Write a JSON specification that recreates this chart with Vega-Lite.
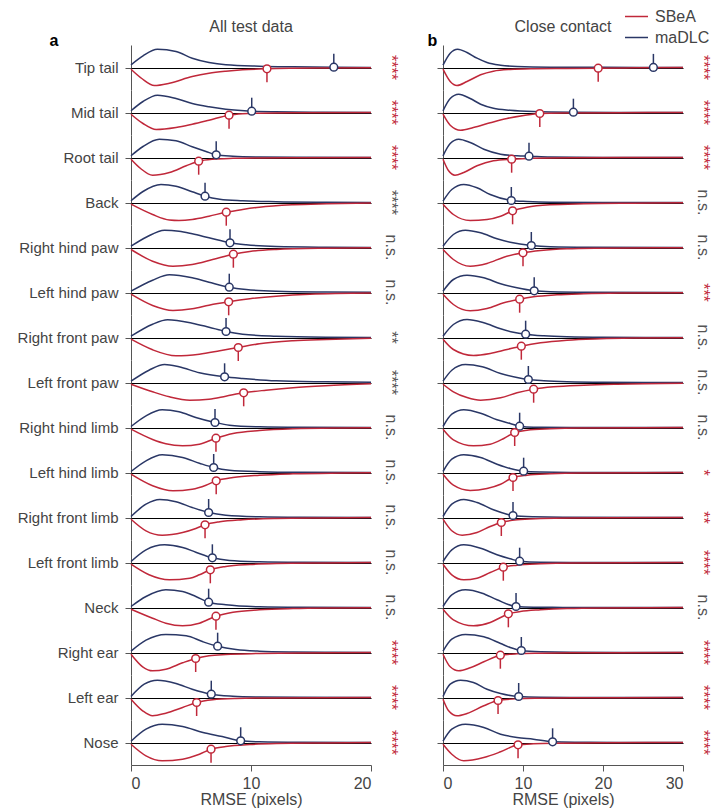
{
"$schema": "https://vega.github.io/schema/vega-lite/v6.json",
"padding": {"left": 17, "top": 4, "right": 2, "bottom": 2},
"config": {
 "font": "Liberation Sans",
 "view": {"stroke": null},
 "axis": {"domainColor": "#555", "tickColor": "#555", "labelColor": "#444", "titleColor": "#444", "labelFontSize": 16, "titleFontSize": 16, "titleFontWeight": "normal", "labelFont": "Liberation Sans", "titleFont": "Liberation Sans", "tickSize": 6},
 "header": {"labelFont": "Liberation Sans", "labelColor": "#444"},
 "title": {"font": "Liberation Sans"},
 "legend": {"labelFont": "Liberation Sans", "padding": 0}
},
"data": {"values": [
{"k":"c","g":"A","p":"Tip tail","m":"maDLC","x":0,"d":2.7},{"k":"c","g":"A","p":"Tip tail","m":"maDLC","x":1,"d":11.7},{"k":"c","g":"A","p":"Tip tail","m":"maDLC","x":2.2,"d":18.3},{"k":"c","g":"A","p":"Tip tail","m":"maDLC","x":3.75,"d":16},{"k":"c","g":"A","p":"Tip tail","m":"maDLC","x":5.1,"d":9.3},{"k":"c","g":"A","p":"Tip tail","m":"maDLC","x":6.5,"d":5},{"k":"c","g":"A","p":"Tip tail","m":"maDLC","x":7.9,"d":2.7},{"k":"c","g":"A","p":"Tip tail","m":"maDLC","x":10.7,"d":1.3},{"k":"c","g":"A","p":"Tip tail","m":"maDLC","x":13.5,"d":0.7},{"k":"c","g":"A","p":"Tip tail","m":"maDLC","x":16.9,"d":0.3},{"k":"c","g":"A","p":"Tip tail","m":"maDLC","x":20,"d":0.1},
{"k":"c","g":"A","p":"Tip tail","m":"SBeA","x":0,"d":-1.7},{"k":"c","g":"A","p":"Tip tail","m":"SBeA","x":0.9,"d":-11},{"k":"c","g":"A","p":"Tip tail","m":"SBeA","x":1.95,"d":-18},{"k":"c","g":"A","p":"Tip tail","m":"SBeA","x":3.2,"d":-15.7},{"k":"c","g":"A","p":"Tip tail","m":"SBeA","x":5.1,"d":-9},{"k":"c","g":"A","p":"Tip tail","m":"SBeA","x":6.5,"d":-5.7},{"k":"c","g":"A","p":"Tip tail","m":"SBeA","x":7.9,"d":-3.7},{"k":"c","g":"A","p":"Tip tail","m":"SBeA","x":9.3,"d":-2.3},{"k":"c","g":"A","p":"Tip tail","m":"SBeA","x":11.33,"d":-1.3},{"k":"c","g":"A","p":"Tip tail","m":"SBeA","x":13.5,"d":-0.8},{"k":"c","g":"A","p":"Tip tail","m":"SBeA","x":16.3,"d":-0.5},{"k":"c","g":"A","p":"Tip tail","m":"SBeA","x":20,"d":-0.2},
{"k":"c","g":"A","p":"Mid tail","m":"maDLC","x":0,"d":1.7},{"k":"c","g":"A","p":"Mid tail","m":"maDLC","x":1,"d":11},{"k":"c","g":"A","p":"Mid tail","m":"maDLC","x":2.2,"d":17.3},{"k":"c","g":"A","p":"Mid tail","m":"maDLC","x":3.75,"d":14},{"k":"c","g":"A","p":"Mid tail","m":"maDLC","x":5.1,"d":9},{"k":"c","g":"A","p":"Mid tail","m":"maDLC","x":6.5,"d":5.7},{"k":"c","g":"A","p":"Mid tail","m":"maDLC","x":7.9,"d":3.3},{"k":"c","g":"A","p":"Mid tail","m":"maDLC","x":10.06,"d":1.3},{"k":"c","g":"A","p":"Mid tail","m":"maDLC","x":12,"d":0.7},{"k":"c","g":"A","p":"Mid tail","m":"maDLC","x":16,"d":0.3},{"k":"c","g":"A","p":"Mid tail","m":"maDLC","x":20,"d":0.1},
{"k":"c","g":"A","p":"Mid tail","m":"SBeA","x":0,"d":-1.7},{"k":"c","g":"A","p":"Mid tail","m":"SBeA","x":1,"d":-11},{"k":"c","g":"A","p":"Mid tail","m":"SBeA","x":2.1,"d":-17},{"k":"c","g":"A","p":"Mid tail","m":"SBeA","x":3.75,"d":-15},{"k":"c","g":"A","p":"Mid tail","m":"SBeA","x":5.1,"d":-11.7},{"k":"c","g":"A","p":"Mid tail","m":"SBeA","x":6.5,"d":-7.7},{"k":"c","g":"A","p":"Mid tail","m":"SBeA","x":8.17,"d":-2.7},{"k":"c","g":"A","p":"Mid tail","m":"SBeA","x":9.3,"d":-1.3},{"k":"c","g":"A","p":"Mid tail","m":"SBeA","x":10.7,"d":-0.7},{"k":"c","g":"A","p":"Mid tail","m":"SBeA","x":13.5,"d":-0.3},{"k":"c","g":"A","p":"Mid tail","m":"SBeA","x":20,"d":-0.1},
{"k":"c","g":"A","p":"Root tail","m":"maDLC","x":0,"d":1.7},{"k":"c","g":"A","p":"Root tail","m":"maDLC","x":1,"d":11},{"k":"c","g":"A","p":"Root tail","m":"maDLC","x":2.36,"d":18.3},{"k":"c","g":"A","p":"Root tail","m":"maDLC","x":3.75,"d":16.7},{"k":"c","g":"A","p":"Root tail","m":"maDLC","x":5.1,"d":10.7},{"k":"c","g":"A","p":"Root tail","m":"maDLC","x":6.25,"d":6},{"k":"c","g":"A","p":"Root tail","m":"maDLC","x":7.1,"d":2.7},{"k":"c","g":"A","p":"Root tail","m":"maDLC","x":8.5,"d":1.3},{"k":"c","g":"A","p":"Root tail","m":"maDLC","x":10.7,"d":0.5},{"k":"c","g":"A","p":"Root tail","m":"maDLC","x":14,"d":0.2},{"k":"c","g":"A","p":"Root tail","m":"maDLC","x":20,"d":0.05},
{"k":"c","g":"A","p":"Root tail","m":"SBeA","x":0,"d":-1.7},{"k":"c","g":"A","p":"Root tail","m":"SBeA","x":0.8,"d":-11},{"k":"c","g":"A","p":"Root tail","m":"SBeA","x":1.8,"d":-17.7},{"k":"c","g":"A","p":"Root tail","m":"SBeA","x":3.2,"d":-15},{"k":"c","g":"A","p":"Root tail","m":"SBeA","x":4.6,"d":-8.3},{"k":"c","g":"A","p":"Root tail","m":"SBeA","x":5.64,"d":-3.7},{"k":"c","g":"A","p":"Root tail","m":"SBeA","x":6.8,"d":-1.7},{"k":"c","g":"A","p":"Root tail","m":"SBeA","x":8.5,"d":-0.8},{"k":"c","g":"A","p":"Root tail","m":"SBeA","x":10.7,"d":-0.4},{"k":"c","g":"A","p":"Root tail","m":"SBeA","x":14,"d":-0.2},{"k":"c","g":"A","p":"Root tail","m":"SBeA","x":20,"d":-0.05},
{"k":"c","g":"A","p":"Back","m":"maDLC","x":0,"d":1.7},{"k":"c","g":"A","p":"Back","m":"maDLC","x":1,"d":11},{"k":"c","g":"A","p":"Back","m":"maDLC","x":2.5,"d":18},{"k":"c","g":"A","p":"Back","m":"maDLC","x":3.75,"d":16.3},{"k":"c","g":"A","p":"Back","m":"maDLC","x":5.1,"d":10.7},{"k":"c","g":"A","p":"Back","m":"maDLC","x":6.17,"d":6.3},{"k":"c","g":"A","p":"Back","m":"maDLC","x":7.4,"d":3.3},{"k":"c","g":"A","p":"Back","m":"maDLC","x":9.3,"d":1.7},{"k":"c","g":"A","p":"Back","m":"maDLC","x":12.1,"d":0.8},{"k":"c","g":"A","p":"Back","m":"maDLC","x":16.25,"d":0.3},{"k":"c","g":"A","p":"Back","m":"maDLC","x":20,"d":0.1},
{"k":"c","g":"A","p":"Back","m":"SBeA","x":0,"d":-1.7},{"k":"c","g":"A","p":"Back","m":"SBeA","x":1.8,"d":-12},{"k":"c","g":"A","p":"Back","m":"SBeA","x":3.2,"d":-17.5},{"k":"c","g":"A","p":"Back","m":"SBeA","x":4,"d":-18},{"k":"c","g":"A","p":"Back","m":"SBeA","x":5.1,"d":-17},{"k":"c","g":"A","p":"Back","m":"SBeA","x":6.5,"d":-13.7},{"k":"c","g":"A","p":"Back","m":"SBeA","x":7.94,"d":-9.7},{"k":"c","g":"A","p":"Back","m":"SBeA","x":9.3,"d":-7},{"k":"c","g":"A","p":"Back","m":"SBeA","x":10.7,"d":-4.7},{"k":"c","g":"A","p":"Back","m":"SBeA","x":13.5,"d":-2.3},{"k":"c","g":"A","p":"Back","m":"SBeA","x":16.3,"d":-1.3},{"k":"c","g":"A","p":"Back","m":"SBeA","x":20,"d":-0.5},
{"k":"c","g":"A","p":"Right hind paw","m":"maDLC","x":0,"d":1.3},{"k":"c","g":"A","p":"Right hind paw","m":"maDLC","x":1.3,"d":10.5},{"k":"c","g":"A","p":"Right hind paw","m":"maDLC","x":2.8,"d":17.3},{"k":"c","g":"A","p":"Right hind paw","m":"maDLC","x":4,"d":16.3},{"k":"c","g":"A","p":"Right hind paw","m":"maDLC","x":5.1,"d":13.7},{"k":"c","g":"A","p":"Right hind paw","m":"maDLC","x":6.5,"d":9.7},{"k":"c","g":"A","p":"Right hind paw","m":"maDLC","x":8.25,"d":4.7},{"k":"c","g":"A","p":"Right hind paw","m":"maDLC","x":9.6,"d":2.7},{"k":"c","g":"A","p":"Right hind paw","m":"maDLC","x":12.1,"d":1},{"k":"c","g":"A","p":"Right hind paw","m":"maDLC","x":16.25,"d":0.3},{"k":"c","g":"A","p":"Right hind paw","m":"maDLC","x":20,"d":0.1},
{"k":"c","g":"A","p":"Right hind paw","m":"SBeA","x":0,"d":-2},{"k":"c","g":"A","p":"Right hind paw","m":"SBeA","x":1.8,"d":-13.7},{"k":"c","g":"A","p":"Right hind paw","m":"SBeA","x":3.5,"d":-18.7},{"k":"c","g":"A","p":"Right hind paw","m":"SBeA","x":5.1,"d":-17},{"k":"c","g":"A","p":"Right hind paw","m":"SBeA","x":6.8,"d":-12},{"k":"c","g":"A","p":"Right hind paw","m":"SBeA","x":8.53,"d":-6.7},{"k":"c","g":"A","p":"Right hind paw","m":"SBeA","x":9.9,"d":-4},{"k":"c","g":"A","p":"Right hind paw","m":"SBeA","x":12.1,"d":-2},{"k":"c","g":"A","p":"Right hind paw","m":"SBeA","x":16.25,"d":-0.7},{"k":"c","g":"A","p":"Right hind paw","m":"SBeA","x":20,"d":-0.3},
{"k":"c","g":"A","p":"Left hind paw","m":"maDLC","x":0,"d":1.3},{"k":"c","g":"A","p":"Left hind paw","m":"maDLC","x":1.8,"d":12.3},{"k":"c","g":"A","p":"Left hind paw","m":"maDLC","x":3.2,"d":17.7},{"k":"c","g":"A","p":"Left hind paw","m":"maDLC","x":5.1,"d":14.7},{"k":"c","g":"A","p":"Left hind paw","m":"maDLC","x":6.5,"d":10.3},{"k":"c","g":"A","p":"Left hind paw","m":"maDLC","x":8.19,"d":5.3},{"k":"c","g":"A","p":"Left hind paw","m":"maDLC","x":9.6,"d":3},{"k":"c","g":"A","p":"Left hind paw","m":"maDLC","x":12.1,"d":1.3},{"k":"c","g":"A","p":"Left hind paw","m":"maDLC","x":16.25,"d":0.5},{"k":"c","g":"A","p":"Left hind paw","m":"maDLC","x":20,"d":0.2},
{"k":"c","g":"A","p":"Left hind paw","m":"SBeA","x":0,"d":-1.7},{"k":"c","g":"A","p":"Left hind paw","m":"SBeA","x":1.8,"d":-13},{"k":"c","g":"A","p":"Left hind paw","m":"SBeA","x":3.5,"d":-18},{"k":"c","g":"A","p":"Left hind paw","m":"SBeA","x":5.1,"d":-16.3},{"k":"c","g":"A","p":"Left hind paw","m":"SBeA","x":6.5,"d":-12.7},{"k":"c","g":"A","p":"Left hind paw","m":"SBeA","x":8.14,"d":-9.3},{"k":"c","g":"A","p":"Left hind paw","m":"SBeA","x":9.9,"d":-6.3},{"k":"c","g":"A","p":"Left hind paw","m":"SBeA","x":12.1,"d":-3.7},{"k":"c","g":"A","p":"Left hind paw","m":"SBeA","x":14.9,"d":-1.7},{"k":"c","g":"A","p":"Left hind paw","m":"SBeA","x":20,"d":-0.5},
{"k":"c","g":"A","p":"Right front paw","m":"maDLC","x":0,"d":1.3},{"k":"c","g":"A","p":"Right front paw","m":"maDLC","x":1.8,"d":13.3},{"k":"c","g":"A","p":"Right front paw","m":"maDLC","x":3.05,"d":17.7},{"k":"c","g":"A","p":"Right front paw","m":"maDLC","x":5.1,"d":14.3},{"k":"c","g":"A","p":"Right front paw","m":"maDLC","x":6.5,"d":10.3},{"k":"c","g":"A","p":"Right front paw","m":"maDLC","x":7.92,"d":6},{"k":"c","g":"A","p":"Right front paw","m":"maDLC","x":9.3,"d":3.3},{"k":"c","g":"A","p":"Right front paw","m":"maDLC","x":12.1,"d":1.3},{"k":"c","g":"A","p":"Right front paw","m":"maDLC","x":16.25,"d":0.3},{"k":"c","g":"A","p":"Right front paw","m":"maDLC","x":20,"d":0.1},
{"k":"c","g":"A","p":"Right front paw","m":"SBeA","x":0,"d":-1.7},{"k":"c","g":"A","p":"Right front paw","m":"SBeA","x":1.8,"d":-12.3},{"k":"c","g":"A","p":"Right front paw","m":"SBeA","x":3.75,"d":-18.3},{"k":"c","g":"A","p":"Right front paw","m":"SBeA","x":5.7,"d":-16.7},{"k":"c","g":"A","p":"Right front paw","m":"SBeA","x":7.4,"d":-13.3},{"k":"c","g":"A","p":"Right front paw","m":"SBeA","x":8.94,"d":-10},{"k":"c","g":"A","p":"Right front paw","m":"SBeA","x":10.7,"d":-6.3},{"k":"c","g":"A","p":"Right front paw","m":"SBeA","x":13.5,"d":-3.3},{"k":"c","g":"A","p":"Right front paw","m":"SBeA","x":16.3,"d":-2},{"k":"c","g":"A","p":"Right front paw","m":"SBeA","x":20,"d":-0.8},
{"k":"c","g":"A","p":"Left front paw","m":"maDLC","x":0,"d":1.3},{"k":"c","g":"A","p":"Left front paw","m":"maDLC","x":1.5,"d":12.3},{"k":"c","g":"A","p":"Left front paw","m":"maDLC","x":2.8,"d":18},{"k":"c","g":"A","p":"Left front paw","m":"maDLC","x":4,"d":15.7},{"k":"c","g":"A","p":"Left front paw","m":"maDLC","x":5.7,"d":9.7},{"k":"c","g":"A","p":"Left front paw","m":"maDLC","x":7.8,"d":5.7},{"k":"c","g":"A","p":"Left front paw","m":"maDLC","x":9.3,"d":4},{"k":"c","g":"A","p":"Left front paw","m":"maDLC","x":12.1,"d":1.7},{"k":"c","g":"A","p":"Left front paw","m":"maDLC","x":16.25,"d":0.7},{"k":"c","g":"A","p":"Left front paw","m":"maDLC","x":20,"d":0.2},
{"k":"c","g":"A","p":"Left front paw","m":"SBeA","x":0,"d":-1.7},{"k":"c","g":"A","p":"Left front paw","m":"SBeA","x":1.8,"d":-9.3},{"k":"c","g":"A","p":"Left front paw","m":"SBeA","x":3.2,"d":-14.3},{"k":"c","g":"A","p":"Left front paw","m":"SBeA","x":4.9,"d":-17.7},{"k":"c","g":"A","p":"Left front paw","m":"SBeA","x":6.5,"d":-16.7},{"k":"c","g":"A","p":"Left front paw","m":"SBeA","x":7.9,"d":-13.7},{"k":"c","g":"A","p":"Left front paw","m":"SBeA","x":9.39,"d":-10.3},{"k":"c","g":"A","p":"Left front paw","m":"SBeA","x":11.25,"d":-7.7},{"k":"c","g":"A","p":"Left front paw","m":"SBeA","x":13.5,"d":-5.3},{"k":"c","g":"A","p":"Left front paw","m":"SBeA","x":16.2,"d":-3.3},{"k":"c","g":"A","p":"Left front paw","m":"SBeA","x":20,"d":-1.3},
{"k":"c","g":"A","p":"Right hind limb","m":"maDLC","x":0,"d":1},{"k":"c","g":"A","p":"Right hind limb","m":"maDLC","x":1.25,"d":11.7},{"k":"c","g":"A","p":"Right hind limb","m":"maDLC","x":2.6,"d":17.7},{"k":"c","g":"A","p":"Right hind limb","m":"maDLC","x":4,"d":15.7},{"k":"c","g":"A","p":"Right hind limb","m":"maDLC","x":5.4,"d":10},{"k":"c","g":"A","p":"Right hind limb","m":"maDLC","x":7,"d":5},{"k":"c","g":"A","p":"Right hind limb","m":"maDLC","x":8.2,"d":2.3},{"k":"c","g":"A","p":"Right hind limb","m":"maDLC","x":10.7,"d":0.7},{"k":"c","g":"A","p":"Right hind limb","m":"maDLC","x":14,"d":0.2},{"k":"c","g":"A","p":"Right hind limb","m":"maDLC","x":20,"d":0.05},
{"k":"c","g":"A","p":"Right hind limb","m":"SBeA","x":0,"d":-1.7},{"k":"c","g":"A","p":"Right hind limb","m":"SBeA","x":1.8,"d":-12},{"k":"c","g":"A","p":"Right hind limb","m":"SBeA","x":2.9,"d":-16.3},{"k":"c","g":"A","p":"Right hind limb","m":"SBeA","x":4.3,"d":-18.3},{"k":"c","g":"A","p":"Right hind limb","m":"SBeA","x":5.7,"d":-16.7},{"k":"c","g":"A","p":"Right hind limb","m":"SBeA","x":7.08,"d":-10.7},{"k":"c","g":"A","p":"Right hind limb","m":"SBeA","x":8.5,"d":-6},{"k":"c","g":"A","p":"Right hind limb","m":"SBeA","x":10.7,"d":-3},{"k":"c","g":"A","p":"Right hind limb","m":"SBeA","x":13.5,"d":-1.3},{"k":"c","g":"A","p":"Right hind limb","m":"SBeA","x":17.6,"d":-0.5},{"k":"c","g":"A","p":"Right hind limb","m":"SBeA","x":20,"d":-0.3},
{"k":"c","g":"A","p":"Left hind limb","m":"maDLC","x":0,"d":1},{"k":"c","g":"A","p":"Left hind limb","m":"maDLC","x":1.25,"d":11.7},{"k":"c","g":"A","p":"Left hind limb","m":"maDLC","x":2.6,"d":17.7},{"k":"c","g":"A","p":"Left hind limb","m":"maDLC","x":4.3,"d":15},{"k":"c","g":"A","p":"Left hind limb","m":"maDLC","x":5.7,"d":9.3},{"k":"c","g":"A","p":"Left hind limb","m":"maDLC","x":6.89,"d":5},{"k":"c","g":"A","p":"Left hind limb","m":"maDLC","x":8.2,"d":2.3},{"k":"c","g":"A","p":"Left hind limb","m":"maDLC","x":10.7,"d":0.8},{"k":"c","g":"A","p":"Left hind limb","m":"maDLC","x":14,"d":0.2},{"k":"c","g":"A","p":"Left hind limb","m":"maDLC","x":20,"d":0.05},
{"k":"c","g":"A","p":"Left hind limb","m":"SBeA","x":0,"d":-1.7},{"k":"c","g":"A","p":"Left hind limb","m":"SBeA","x":1.8,"d":-13.3},{"k":"c","g":"A","p":"Left hind limb","m":"SBeA","x":3.5,"d":-18.3},{"k":"c","g":"A","p":"Left hind limb","m":"SBeA","x":5.1,"d":-16.7},{"k":"c","g":"A","p":"Left hind limb","m":"SBeA","x":6.25,"d":-12.7},{"k":"c","g":"A","p":"Left hind limb","m":"SBeA","x":7.1,"d":-8.3},{"k":"c","g":"A","p":"Left hind limb","m":"SBeA","x":8.5,"d":-5},{"k":"c","g":"A","p":"Left hind limb","m":"SBeA","x":10.7,"d":-2.7},{"k":"c","g":"A","p":"Left hind limb","m":"SBeA","x":13.5,"d":-1.3},{"k":"c","g":"A","p":"Left hind limb","m":"SBeA","x":17.6,"d":-0.5},{"k":"c","g":"A","p":"Left hind limb","m":"SBeA","x":20,"d":-0.2},
{"k":"c","g":"A","p":"Right front limb","m":"maDLC","x":0,"d":1},{"k":"c","g":"A","p":"Right front limb","m":"maDLC","x":1.25,"d":13.3},{"k":"c","g":"A","p":"Right front limb","m":"maDLC","x":2.4,"d":18},{"k":"c","g":"A","p":"Right front limb","m":"maDLC","x":3.75,"d":15.7},{"k":"c","g":"A","p":"Right front limb","m":"maDLC","x":5.1,"d":10},{"k":"c","g":"A","p":"Right front limb","m":"maDLC","x":6.47,"d":5},{"k":"c","g":"A","p":"Right front limb","m":"maDLC","x":7.9,"d":2.3},{"k":"c","g":"A","p":"Right front limb","m":"maDLC","x":10.7,"d":0.7},{"k":"c","g":"A","p":"Right front limb","m":"maDLC","x":14,"d":0.2},{"k":"c","g":"A","p":"Right front limb","m":"maDLC","x":20,"d":0.05},
{"k":"c","g":"A","p":"Right front limb","m":"SBeA","x":0,"d":-1.7},{"k":"c","g":"A","p":"Right front limb","m":"SBeA","x":1.25,"d":-13.3},{"k":"c","g":"A","p":"Right front limb","m":"SBeA","x":2.6,"d":-17.7},{"k":"c","g":"A","p":"Right front limb","m":"SBeA","x":4.3,"d":-15},{"k":"c","g":"A","p":"Right front limb","m":"SBeA","x":5.4,"d":-11},{"k":"c","g":"A","p":"Right front limb","m":"SBeA","x":6.17,"d":-7.3},{"k":"c","g":"A","p":"Right front limb","m":"SBeA","x":7.4,"d":-4.3},{"k":"c","g":"A","p":"Right front limb","m":"SBeA","x":9.3,"d":-2.3},{"k":"c","g":"A","p":"Right front limb","m":"SBeA","x":12.1,"d":-1},{"k":"c","g":"A","p":"Right front limb","m":"SBeA","x":16,"d":-0.4},{"k":"c","g":"A","p":"Right front limb","m":"SBeA","x":20,"d":-0.1},
{"k":"c","g":"A","p":"Left front limb","m":"maDLC","x":0,"d":1},{"k":"c","g":"A","p":"Left front limb","m":"maDLC","x":1.25,"d":12.7},{"k":"c","g":"A","p":"Left front limb","m":"maDLC","x":2.8,"d":17.7},{"k":"c","g":"A","p":"Left front limb","m":"maDLC","x":4.3,"d":15},{"k":"c","g":"A","p":"Left front limb","m":"maDLC","x":5.4,"d":10.3},{"k":"c","g":"A","p":"Left front limb","m":"maDLC","x":6.78,"d":4.7},{"k":"c","g":"A","p":"Left front limb","m":"maDLC","x":8.2,"d":2},{"k":"c","g":"A","p":"Left front limb","m":"maDLC","x":10.7,"d":0.7},{"k":"c","g":"A","p":"Left front limb","m":"maDLC","x":14,"d":0.2},{"k":"c","g":"A","p":"Left front limb","m":"maDLC","x":20,"d":0.05},
{"k":"c","g":"A","p":"Left front limb","m":"SBeA","x":0,"d":-1.7},{"k":"c","g":"A","p":"Left front limb","m":"SBeA","x":1.5,"d":-12.3},{"k":"c","g":"A","p":"Left front limb","m":"SBeA","x":3.2,"d":-17.3},{"k":"c","g":"A","p":"Left front limb","m":"SBeA","x":4.9,"d":-15.7},{"k":"c","g":"A","p":"Left front limb","m":"SBeA","x":5.7,"d":-12.3},{"k":"c","g":"A","p":"Left front limb","m":"SBeA","x":6.61,"d":-7.3},{"k":"c","g":"A","p":"Left front limb","m":"SBeA","x":7.9,"d":-4},{"k":"c","g":"A","p":"Left front limb","m":"SBeA","x":9.9,"d":-2},{"k":"c","g":"A","p":"Left front limb","m":"SBeA","x":12.1,"d":-1},{"k":"c","g":"A","p":"Left front limb","m":"SBeA","x":16,"d":-0.4},{"k":"c","g":"A","p":"Left front limb","m":"SBeA","x":20,"d":-0.1},
{"k":"c","g":"A","p":"Neck","m":"maDLC","x":0,"d":1},{"k":"c","g":"A","p":"Neck","m":"maDLC","x":1.25,"d":11},{"k":"c","g":"A","p":"Neck","m":"maDLC","x":2.9,"d":17.7},{"k":"c","g":"A","p":"Neck","m":"maDLC","x":4.3,"d":16},{"k":"c","g":"A","p":"Neck","m":"maDLC","x":5.4,"d":11},{"k":"c","g":"A","p":"Neck","m":"maDLC","x":6.47,"d":5.3},{"k":"c","g":"A","p":"Neck","m":"maDLC","x":7.9,"d":2.7},{"k":"c","g":"A","p":"Neck","m":"maDLC","x":10.7,"d":0.7},{"k":"c","g":"A","p":"Neck","m":"maDLC","x":14,"d":0.2},{"k":"c","g":"A","p":"Neck","m":"maDLC","x":20,"d":0.05},
{"k":"c","g":"A","p":"Neck","m":"SBeA","x":0,"d":-1.7},{"k":"c","g":"A","p":"Neck","m":"SBeA","x":1.8,"d":-10.7},{"k":"c","g":"A","p":"Neck","m":"SBeA","x":2.9,"d":-15.7},{"k":"c","g":"A","p":"Neck","m":"SBeA","x":4.3,"d":-18.3},{"k":"c","g":"A","p":"Neck","m":"SBeA","x":5.7,"d":-15.7},{"k":"c","g":"A","p":"Neck","m":"SBeA","x":7.08,"d":-8.7},{"k":"c","g":"A","p":"Neck","m":"SBeA","x":8.5,"d":-4.7},{"k":"c","g":"A","p":"Neck","m":"SBeA","x":10.7,"d":-2.3},{"k":"c","g":"A","p":"Neck","m":"SBeA","x":13.5,"d":-1},{"k":"c","g":"A","p":"Neck","m":"SBeA","x":17,"d":-0.4},{"k":"c","g":"A","p":"Neck","m":"SBeA","x":20,"d":-0.2},
{"k":"c","g":"A","p":"Right ear","m":"maDLC","x":0,"d":1.3},{"k":"c","g":"A","p":"Right ear","m":"maDLC","x":1.25,"d":12.3},{"k":"c","g":"A","p":"Right ear","m":"maDLC","x":2.9,"d":18},{"k":"c","g":"A","p":"Right ear","m":"maDLC","x":4.6,"d":16.7},{"k":"c","g":"A","p":"Right ear","m":"maDLC","x":6,"d":10.7},{"k":"c","g":"A","p":"Right ear","m":"maDLC","x":7.22,"d":6.3},{"k":"c","g":"A","p":"Right ear","m":"maDLC","x":8.75,"d":3},{"k":"c","g":"A","p":"Right ear","m":"maDLC","x":10.7,"d":1.3},{"k":"c","g":"A","p":"Right ear","m":"maDLC","x":13.5,"d":0.5},{"k":"c","g":"A","p":"Right ear","m":"maDLC","x":17,"d":0.2},{"k":"c","g":"A","p":"Right ear","m":"maDLC","x":20,"d":0.05},
{"k":"c","g":"A","p":"Right ear","m":"SBeA","x":0,"d":-1.7},{"k":"c","g":"A","p":"Right ear","m":"SBeA","x":0.97,"d":-14.3},{"k":"c","g":"A","p":"Right ear","m":"SBeA","x":1.8,"d":-18.3},{"k":"c","g":"A","p":"Right ear","m":"SBeA","x":2.9,"d":-16.7},{"k":"c","g":"A","p":"Right ear","m":"SBeA","x":4.3,"d":-10.3},{"k":"c","g":"A","p":"Right ear","m":"SBeA","x":5.39,"d":-6},{"k":"c","g":"A","p":"Right ear","m":"SBeA","x":6.5,"d":-3.3},{"k":"c","g":"A","p":"Right ear","m":"SBeA","x":7.9,"d":-2},{"k":"c","g":"A","p":"Right ear","m":"SBeA","x":10.7,"d":-1},{"k":"c","g":"A","p":"Right ear","m":"SBeA","x":14,"d":-0.4},{"k":"c","g":"A","p":"Right ear","m":"SBeA","x":20,"d":-0.1},
{"k":"c","g":"A","p":"Left ear","m":"maDLC","x":0,"d":1},{"k":"c","g":"A","p":"Left ear","m":"maDLC","x":1.1,"d":13.3},{"k":"c","g":"A","p":"Left ear","m":"maDLC","x":2.2,"d":17.3},{"k":"c","g":"A","p":"Left ear","m":"maDLC","x":3.75,"d":14},{"k":"c","g":"A","p":"Left ear","m":"maDLC","x":5.1,"d":8.3},{"k":"c","g":"A","p":"Left ear","m":"maDLC","x":6.69,"d":3.3},{"k":"c","g":"A","p":"Left ear","m":"maDLC","x":8.5,"d":1.3},{"k":"c","g":"A","p":"Left ear","m":"maDLC","x":10.7,"d":0.5},{"k":"c","g":"A","p":"Left ear","m":"maDLC","x":14,"d":0.15},{"k":"c","g":"A","p":"Left ear","m":"maDLC","x":20,"d":0.05},
{"k":"c","g":"A","p":"Left ear","m":"SBeA","x":0,"d":-1.7},{"k":"c","g":"A","p":"Left ear","m":"SBeA","x":0.97,"d":-13.3},{"k":"c","g":"A","p":"Left ear","m":"SBeA","x":1.8,"d":-18.3},{"k":"c","g":"A","p":"Left ear","m":"SBeA","x":2.9,"d":-15.7},{"k":"c","g":"A","p":"Left ear","m":"SBeA","x":4.3,"d":-10},{"k":"c","g":"A","p":"Left ear","m":"SBeA","x":5.47,"d":-5},{"k":"c","g":"A","p":"Left ear","m":"SBeA","x":6.8,"d":-2.3},{"k":"c","g":"A","p":"Left ear","m":"SBeA","x":8.75,"d":-1},{"k":"c","g":"A","p":"Left ear","m":"SBeA","x":12,"d":-0.4},{"k":"c","g":"A","p":"Left ear","m":"SBeA","x":20,"d":-0.1},
{"k":"c","g":"A","p":"Nose","m":"maDLC","x":0,"d":1.3},{"k":"c","g":"A","p":"Nose","m":"maDLC","x":1.25,"d":13.3},{"k":"c","g":"A","p":"Nose","m":"maDLC","x":2.6,"d":18.3},{"k":"c","g":"A","p":"Nose","m":"maDLC","x":4.3,"d":16},{"k":"c","g":"A","p":"Nose","m":"maDLC","x":6,"d":10},{"k":"c","g":"A","p":"Nose","m":"maDLC","x":7.6,"d":6},{"k":"c","g":"A","p":"Nose","m":"maDLC","x":9.14,"d":1.7},{"k":"c","g":"A","p":"Nose","m":"maDLC","x":10.7,"d":0.7},{"k":"c","g":"A","p":"Nose","m":"maDLC","x":14,"d":0.2},{"k":"c","g":"A","p":"Nose","m":"maDLC","x":20,"d":0.05},
{"k":"c","g":"A","p":"Nose","m":"SBeA","x":0,"d":-1.7},{"k":"c","g":"A","p":"Nose","m":"SBeA","x":1.25,"d":-13.3},{"k":"c","g":"A","p":"Nose","m":"SBeA","x":2.6,"d":-18.3},{"k":"c","g":"A","p":"Nose","m":"SBeA","x":4.3,"d":-16.7},{"k":"c","g":"A","p":"Nose","m":"SBeA","x":5.7,"d":-11.7},{"k":"c","g":"A","p":"Nose","m":"SBeA","x":6.67,"d":-6.7},{"k":"c","g":"A","p":"Nose","m":"SBeA","x":7.9,"d":-4},{"k":"c","g":"A","p":"Nose","m":"SBeA","x":9.9,"d":-2},{"k":"c","g":"A","p":"Nose","m":"SBeA","x":12.1,"d":-1},{"k":"c","g":"A","p":"Nose","m":"SBeA","x":16,"d":-0.4},{"k":"c","g":"A","p":"Nose","m":"SBeA","x":20,"d":-0.1},

{"k":"c","g":"B","p":"Tip tail","m":"maDLC","x":0,"d":2.3},{"k":"c","g":"B","p":"Tip tail","m":"maDLC","x":0.9,"d":14.3},{"k":"c","g":"B","p":"Tip tail","m":"maDLC","x":1.83,"d":18.3},{"k":"c","g":"B","p":"Tip tail","m":"maDLC","x":3,"d":15},{"k":"c","g":"B","p":"Tip tail","m":"maDLC","x":4.25,"d":9.3},{"k":"c","g":"B","p":"Tip tail","m":"maDLC","x":5.5,"d":5},{"k":"c","g":"B","p":"Tip tail","m":"maDLC","x":7.2,"d":2.3},{"k":"c","g":"B","p":"Tip tail","m":"maDLC","x":9.25,"d":1},{"k":"c","g":"B","p":"Tip tail","m":"maDLC","x":13.4,"d":0.3},{"k":"c","g":"B","p":"Tip tail","m":"maDLC","x":20,"d":0.15},{"k":"c","g":"B","p":"Tip tail","m":"maDLC","x":26.3,"d":0.1},{"k":"c","g":"B","p":"Tip tail","m":"maDLC","x":30,"d":0.05},
{"k":"c","g":"B","p":"Tip tail","m":"SBeA","x":0,"d":-1.7},{"k":"c","g":"B","p":"Tip tail","m":"SBeA","x":0.9,"d":-14},{"k":"c","g":"B","p":"Tip tail","m":"SBeA","x":1.75,"d":-18},{"k":"c","g":"B","p":"Tip tail","m":"SBeA","x":3,"d":-14},{"k":"c","g":"B","p":"Tip tail","m":"SBeA","x":4.7,"d":-7.3},{"k":"c","g":"B","p":"Tip tail","m":"SBeA","x":6.3,"d":-3.7},{"k":"c","g":"B","p":"Tip tail","m":"SBeA","x":8.4,"d":-2},{"k":"c","g":"B","p":"Tip tail","m":"SBeA","x":11.3,"d":-1.3},{"k":"c","g":"B","p":"Tip tail","m":"SBeA","x":15.5,"d":-1},{"k":"c","g":"B","p":"Tip tail","m":"SBeA","x":19.4,"d":-0.7},{"k":"c","g":"B","p":"Tip tail","m":"SBeA","x":24,"d":-0.3},{"k":"c","g":"B","p":"Tip tail","m":"SBeA","x":30,"d":-0.1},
{"k":"c","g":"B","p":"Mid tail","m":"maDLC","x":0,"d":1.7},{"k":"c","g":"B","p":"Mid tail","m":"maDLC","x":0.9,"d":14},{"k":"c","g":"B","p":"Mid tail","m":"maDLC","x":1.96,"d":18.3},{"k":"c","g":"B","p":"Mid tail","m":"maDLC","x":3.4,"d":14},{"k":"c","g":"B","p":"Mid tail","m":"maDLC","x":4.7,"d":8.3},{"k":"c","g":"B","p":"Mid tail","m":"maDLC","x":6.3,"d":4.3},{"k":"c","g":"B","p":"Mid tail","m":"maDLC","x":8.4,"d":2.3},{"k":"c","g":"B","p":"Mid tail","m":"maDLC","x":11.3,"d":1},{"k":"c","g":"B","p":"Mid tail","m":"maDLC","x":16.3,"d":0.3},{"k":"c","g":"B","p":"Mid tail","m":"maDLC","x":22,"d":0.1},{"k":"c","g":"B","p":"Mid tail","m":"maDLC","x":30,"d":0.05},
{"k":"c","g":"B","p":"Mid tail","m":"SBeA","x":0,"d":-1.7},{"k":"c","g":"B","p":"Mid tail","m":"SBeA","x":0.9,"d":-12.7},{"k":"c","g":"B","p":"Mid tail","m":"SBeA","x":2.2,"d":-17.7},{"k":"c","g":"B","p":"Mid tail","m":"SBeA","x":3.8,"d":-15},{"k":"c","g":"B","p":"Mid tail","m":"SBeA","x":5.9,"d":-10.3},{"k":"c","g":"B","p":"Mid tail","m":"SBeA","x":8,"d":-6},{"k":"c","g":"B","p":"Mid tail","m":"SBeA","x":10.1,"d":-3},{"k":"c","g":"B","p":"Mid tail","m":"SBeA","x":12.1,"d":-1},{"k":"c","g":"B","p":"Mid tail","m":"SBeA","x":15.5,"d":-0.5},{"k":"c","g":"B","p":"Mid tail","m":"SBeA","x":22,"d":-0.2},{"k":"c","g":"B","p":"Mid tail","m":"SBeA","x":30,"d":-0.05},
{"k":"c","g":"B","p":"Root tail","m":"maDLC","x":0,"d":1.7},{"k":"c","g":"B","p":"Root tail","m":"maDLC","x":0.9,"d":14},{"k":"c","g":"B","p":"Root tail","m":"maDLC","x":1.96,"d":18.3},{"k":"c","g":"B","p":"Root tail","m":"maDLC","x":3.4,"d":15},{"k":"c","g":"B","p":"Root tail","m":"maDLC","x":5.1,"d":8.3},{"k":"c","g":"B","p":"Root tail","m":"maDLC","x":7.2,"d":3.3},{"k":"c","g":"B","p":"Root tail","m":"maDLC","x":9.25,"d":1.7},{"k":"c","g":"B","p":"Root tail","m":"maDLC","x":10.75,"d":1.3},{"k":"c","g":"B","p":"Root tail","m":"maDLC","x":13.4,"d":0.5},{"k":"c","g":"B","p":"Root tail","m":"maDLC","x":20,"d":0.1},{"k":"c","g":"B","p":"Root tail","m":"maDLC","x":30,"d":0.05},
{"k":"c","g":"B","p":"Root tail","m":"SBeA","x":0,"d":-1.7},{"k":"c","g":"B","p":"Root tail","m":"SBeA","x":0.7,"d":-13.3},{"k":"c","g":"B","p":"Root tail","m":"SBeA","x":1.5,"d":-17.7},{"k":"c","g":"B","p":"Root tail","m":"SBeA","x":2.6,"d":-15},{"k":"c","g":"B","p":"Root tail","m":"SBeA","x":4.25,"d":-8.3},{"k":"c","g":"B","p":"Root tail","m":"SBeA","x":6.3,"d":-3.3},{"k":"c","g":"B","p":"Root tail","m":"SBeA","x":8.58,"d":-1.7},{"k":"c","g":"B","p":"Root tail","m":"SBeA","x":11.3,"d":-0.7},{"k":"c","g":"B","p":"Root tail","m":"SBeA","x":16,"d":-0.2},{"k":"c","g":"B","p":"Root tail","m":"SBeA","x":30,"d":-0.05},
{"k":"c","g":"B","p":"Back","m":"maDLC","x":0,"d":1.3},{"k":"c","g":"B","p":"Back","m":"maDLC","x":1.1,"d":13},{"k":"c","g":"B","p":"Back","m":"maDLC","x":2.6,"d":18},{"k":"c","g":"B","p":"Back","m":"maDLC","x":4.25,"d":14.7},{"k":"c","g":"B","p":"Back","m":"maDLC","x":5.9,"d":8},{"k":"c","g":"B","p":"Back","m":"maDLC","x":8.54,"d":2},{"k":"c","g":"B","p":"Back","m":"maDLC","x":10.5,"d":1},{"k":"c","g":"B","p":"Back","m":"maDLC","x":13.4,"d":0.3},{"k":"c","g":"B","p":"Back","m":"maDLC","x":20,"d":0.1},{"k":"c","g":"B","p":"Back","m":"maDLC","x":30,"d":0.05},
{"k":"c","g":"B","p":"Back","m":"SBeA","x":0,"d":-1.7},{"k":"c","g":"B","p":"Back","m":"SBeA","x":1.3,"d":-12},{"k":"c","g":"B","p":"Back","m":"SBeA","x":3.4,"d":-18},{"k":"c","g":"B","p":"Back","m":"SBeA","x":5.5,"d":-17},{"k":"c","g":"B","p":"Back","m":"SBeA","x":7.2,"d":-13.7},{"k":"c","g":"B","p":"Back","m":"SBeA","x":8.7,"d":-8.3},{"k":"c","g":"B","p":"Back","m":"SBeA","x":10.5,"d":-4.7},{"k":"c","g":"B","p":"Back","m":"SBeA","x":13.4,"d":-2.3},{"k":"c","g":"B","p":"Back","m":"SBeA","x":17.6,"d":-1.3},{"k":"c","g":"B","p":"Back","m":"SBeA","x":23.8,"d":-0.7},{"k":"c","g":"B","p":"Back","m":"SBeA","x":30,"d":-0.3},
{"k":"c","g":"B","p":"Right hind paw","m":"maDLC","x":0,"d":1.3},{"k":"c","g":"B","p":"Right hind paw","m":"maDLC","x":1.3,"d":13},{"k":"c","g":"B","p":"Right hind paw","m":"maDLC","x":2.8,"d":17.3},{"k":"c","g":"B","p":"Right hind paw","m":"maDLC","x":4.7,"d":14.7},{"k":"c","g":"B","p":"Right hind paw","m":"maDLC","x":6.75,"d":8.7},{"k":"c","g":"B","p":"Right hind paw","m":"maDLC","x":8.4,"d":5.3},{"k":"c","g":"B","p":"Right hind paw","m":"maDLC","x":11.04,"d":2},{"k":"c","g":"B","p":"Right hind paw","m":"maDLC","x":13.4,"d":0.7},{"k":"c","g":"B","p":"Right hind paw","m":"maDLC","x":18,"d":0.2},{"k":"c","g":"B","p":"Right hind paw","m":"maDLC","x":30,"d":0.05},
{"k":"c","g":"B","p":"Right hind paw","m":"SBeA","x":0,"d":-2},{"k":"c","g":"B","p":"Right hind paw","m":"SBeA","x":1.3,"d":-12},{"k":"c","g":"B","p":"Right hind paw","m":"SBeA","x":3.4,"d":-18.7},{"k":"c","g":"B","p":"Right hind paw","m":"SBeA","x":5.5,"d":-16},{"k":"c","g":"B","p":"Right hind paw","m":"SBeA","x":7.6,"d":-9.7},{"k":"c","g":"B","p":"Right hind paw","m":"SBeA","x":10,"d":-5.3},{"k":"c","g":"B","p":"Right hind paw","m":"SBeA","x":12.2,"d":-3},{"k":"c","g":"B","p":"Right hind paw","m":"SBeA","x":15.5,"d":-1.3},{"k":"c","g":"B","p":"Right hind paw","m":"SBeA","x":19.7,"d":-0.7},{"k":"c","g":"B","p":"Right hind paw","m":"SBeA","x":30,"d":-0.2},
{"k":"c","g":"B","p":"Left hind paw","m":"maDLC","x":0,"d":1.3},{"k":"c","g":"B","p":"Left hind paw","m":"maDLC","x":1.3,"d":13},{"k":"c","g":"B","p":"Left hind paw","m":"maDLC","x":3,"d":17.3},{"k":"c","g":"B","p":"Left hind paw","m":"maDLC","x":5.1,"d":14.7},{"k":"c","g":"B","p":"Left hind paw","m":"maDLC","x":7.2,"d":8.7},{"k":"c","g":"B","p":"Left hind paw","m":"maDLC","x":9.25,"d":4.7},{"k":"c","g":"B","p":"Left hind paw","m":"maDLC","x":11.4,"d":1.7},{"k":"c","g":"B","p":"Left hind paw","m":"maDLC","x":13.4,"d":0.7},{"k":"c","g":"B","p":"Left hind paw","m":"maDLC","x":18,"d":0.2},{"k":"c","g":"B","p":"Left hind paw","m":"maDLC","x":30,"d":0.05},
{"k":"c","g":"B","p":"Left hind paw","m":"SBeA","x":0,"d":-1.7},{"k":"c","g":"B","p":"Left hind paw","m":"SBeA","x":1.3,"d":-12},{"k":"c","g":"B","p":"Left hind paw","m":"SBeA","x":3.4,"d":-18.3},{"k":"c","g":"B","p":"Left hind paw","m":"SBeA","x":5.5,"d":-16},{"k":"c","g":"B","p":"Left hind paw","m":"SBeA","x":7.6,"d":-10.3},{"k":"c","g":"B","p":"Left hind paw","m":"SBeA","x":9.58,"d":-6.7},{"k":"c","g":"B","p":"Left hind paw","m":"SBeA","x":11.3,"d":-4.3},{"k":"c","g":"B","p":"Left hind paw","m":"SBeA","x":14.25,"d":-2.3},{"k":"c","g":"B","p":"Left hind paw","m":"SBeA","x":17.6,"d":-1.3},{"k":"c","g":"B","p":"Left hind paw","m":"SBeA","x":22,"d":-0.6},{"k":"c","g":"B","p":"Left hind paw","m":"SBeA","x":30,"d":-0.2},
{"k":"c","g":"B","p":"Right front paw","m":"maDLC","x":0,"d":1.3},{"k":"c","g":"B","p":"Right front paw","m":"maDLC","x":1.3,"d":13},{"k":"c","g":"B","p":"Right front paw","m":"maDLC","x":3,"d":18},{"k":"c","g":"B","p":"Right front paw","m":"maDLC","x":5.1,"d":14.7},{"k":"c","g":"B","p":"Right front paw","m":"maDLC","x":7.2,"d":8.7},{"k":"c","g":"B","p":"Right front paw","m":"maDLC","x":8.8,"d":5.3},{"k":"c","g":"B","p":"Right front paw","m":"maDLC","x":10.33,"d":3.3},{"k":"c","g":"B","p":"Right front paw","m":"maDLC","x":12.6,"d":1.7},{"k":"c","g":"B","p":"Right front paw","m":"maDLC","x":15.5,"d":0.7},{"k":"c","g":"B","p":"Right front paw","m":"maDLC","x":20,"d":0.2},{"k":"c","g":"B","p":"Right front paw","m":"maDLC","x":30,"d":0.05},
{"k":"c","g":"B","p":"Right front paw","m":"SBeA","x":0,"d":-1.7},{"k":"c","g":"B","p":"Right front paw","m":"SBeA","x":1.3,"d":-12},{"k":"c","g":"B","p":"Right front paw","m":"SBeA","x":3.8,"d":-18},{"k":"c","g":"B","p":"Right front paw","m":"SBeA","x":5.9,"d":-16},{"k":"c","g":"B","p":"Right front paw","m":"SBeA","x":8,"d":-12},{"k":"c","g":"B","p":"Right front paw","m":"SBeA","x":9.79,"d":-8.7},{"k":"c","g":"B","p":"Right front paw","m":"SBeA","x":12.2,"d":-5.3},{"k":"c","g":"B","p":"Right front paw","m":"SBeA","x":15.5,"d":-2.7},{"k":"c","g":"B","p":"Right front paw","m":"SBeA","x":19.7,"d":-1.3},{"k":"c","g":"B","p":"Right front paw","m":"SBeA","x":24,"d":-0.6},{"k":"c","g":"B","p":"Right front paw","m":"SBeA","x":30,"d":-0.2},
{"k":"c","g":"B","p":"Left front paw","m":"maDLC","x":0,"d":1.3},{"k":"c","g":"B","p":"Left front paw","m":"maDLC","x":1.1,"d":12.3},{"k":"c","g":"B","p":"Left front paw","m":"maDLC","x":2.8,"d":18},{"k":"c","g":"B","p":"Left front paw","m":"maDLC","x":4.9,"d":15.7},{"k":"c","g":"B","p":"Left front paw","m":"maDLC","x":7.2,"d":9},{"k":"c","g":"B","p":"Left front paw","m":"maDLC","x":9.25,"d":5},{"k":"c","g":"B","p":"Left front paw","m":"maDLC","x":10.67,"d":3},{"k":"c","g":"B","p":"Left front paw","m":"maDLC","x":12.6,"d":1.7},{"k":"c","g":"B","p":"Left front paw","m":"maDLC","x":15.5,"d":0.7},{"k":"c","g":"B","p":"Left front paw","m":"maDLC","x":20,"d":0.2},{"k":"c","g":"B","p":"Left front paw","m":"maDLC","x":30,"d":0.05},
{"k":"c","g":"B","p":"Left front paw","m":"SBeA","x":0,"d":-1.7},{"k":"c","g":"B","p":"Left front paw","m":"SBeA","x":1.3,"d":-9.3},{"k":"c","g":"B","p":"Left front paw","m":"SBeA","x":3,"d":-15},{"k":"c","g":"B","p":"Left front paw","m":"SBeA","x":4.7,"d":-17.7},{"k":"c","g":"B","p":"Left front paw","m":"SBeA","x":7.2,"d":-15.3},{"k":"c","g":"B","p":"Left front paw","m":"SBeA","x":9.25,"d":-10.3},{"k":"c","g":"B","p":"Left front paw","m":"SBeA","x":11.33,"d":-6.7},{"k":"c","g":"B","p":"Left front paw","m":"SBeA","x":13.8,"d":-4.3},{"k":"c","g":"B","p":"Left front paw","m":"SBeA","x":17.6,"d":-2.7},{"k":"c","g":"B","p":"Left front paw","m":"SBeA","x":21.75,"d":-1.7},{"k":"c","g":"B","p":"Left front paw","m":"SBeA","x":30,"d":-0.7},
{"k":"c","g":"B","p":"Right hind limb","m":"maDLC","x":0,"d":1},{"k":"c","g":"B","p":"Right hind limb","m":"maDLC","x":1.1,"d":13.3},{"k":"c","g":"B","p":"Right hind limb","m":"maDLC","x":2.6,"d":17.7},{"k":"c","g":"B","p":"Right hind limb","m":"maDLC","x":4.7,"d":14.3},{"k":"c","g":"B","p":"Right hind limb","m":"maDLC","x":6.75,"d":7.7},{"k":"c","g":"B","p":"Right hind limb","m":"maDLC","x":8.4,"d":4},{"k":"c","g":"B","p":"Right hind limb","m":"maDLC","x":9.58,"d":1.3},{"k":"c","g":"B","p":"Right hind limb","m":"maDLC","x":11.3,"d":0.3},{"k":"c","g":"B","p":"Right hind limb","m":"maDLC","x":16,"d":0.1},{"k":"c","g":"B","p":"Right hind limb","m":"maDLC","x":30,"d":0.02},
{"k":"c","g":"B","p":"Right hind limb","m":"SBeA","x":0,"d":-1.7},{"k":"c","g":"B","p":"Right hind limb","m":"SBeA","x":1.3,"d":-12.3},{"k":"c","g":"B","p":"Right hind limb","m":"SBeA","x":3.8,"d":-18.3},{"k":"c","g":"B","p":"Right hind limb","m":"SBeA","x":5.9,"d":-16.7},{"k":"c","g":"B","p":"Right hind limb","m":"SBeA","x":7.6,"d":-11},{"k":"c","g":"B","p":"Right hind limb","m":"SBeA","x":8.96,"d":-5},{"k":"c","g":"B","p":"Right hind limb","m":"SBeA","x":10.5,"d":-2.7},{"k":"c","g":"B","p":"Right hind limb","m":"SBeA","x":13.4,"d":-1.3},{"k":"c","g":"B","p":"Right hind limb","m":"SBeA","x":17,"d":-0.5},{"k":"c","g":"B","p":"Right hind limb","m":"SBeA","x":30,"d":-0.1},
{"k":"c","g":"B","p":"Left hind limb","m":"maDLC","x":0,"d":1},{"k":"c","g":"B","p":"Left hind limb","m":"maDLC","x":1.1,"d":13.3},{"k":"c","g":"B","p":"Left hind limb","m":"maDLC","x":2.6,"d":17.7},{"k":"c","g":"B","p":"Left hind limb","m":"maDLC","x":4.7,"d":15},{"k":"c","g":"B","p":"Left hind limb","m":"maDLC","x":6.75,"d":8.3},{"k":"c","g":"B","p":"Left hind limb","m":"maDLC","x":8.4,"d":4},{"k":"c","g":"B","p":"Left hind limb","m":"maDLC","x":10.08,"d":1.3},{"k":"c","g":"B","p":"Left hind limb","m":"maDLC","x":12.2,"d":0.5},{"k":"c","g":"B","p":"Left hind limb","m":"maDLC","x":16,"d":0.1},{"k":"c","g":"B","p":"Left hind limb","m":"maDLC","x":30,"d":0.02},
{"k":"c","g":"B","p":"Left hind limb","m":"SBeA","x":0,"d":-1.7},{"k":"c","g":"B","p":"Left hind limb","m":"SBeA","x":1.3,"d":-12.7},{"k":"c","g":"B","p":"Left hind limb","m":"SBeA","x":3.4,"d":-18},{"k":"c","g":"B","p":"Left hind limb","m":"SBeA","x":5.5,"d":-16},{"k":"c","g":"B","p":"Left hind limb","m":"SBeA","x":7.2,"d":-11.7},{"k":"c","g":"B","p":"Left hind limb","m":"SBeA","x":8.75,"d":-5},{"k":"c","g":"B","p":"Left hind limb","m":"SBeA","x":10.5,"d":-2.7},{"k":"c","g":"B","p":"Left hind limb","m":"SBeA","x":13.4,"d":-1.3},{"k":"c","g":"B","p":"Left hind limb","m":"SBeA","x":17,"d":-0.5},{"k":"c","g":"B","p":"Left hind limb","m":"SBeA","x":30,"d":-0.1},
{"k":"c","g":"B","p":"Right front limb","m":"maDLC","x":0,"d":1},{"k":"c","g":"B","p":"Right front limb","m":"maDLC","x":1.1,"d":13.3},{"k":"c","g":"B","p":"Right front limb","m":"maDLC","x":2.6,"d":18},{"k":"c","g":"B","p":"Right front limb","m":"maDLC","x":4.25,"d":15},{"k":"c","g":"B","p":"Right front limb","m":"maDLC","x":6.3,"d":7.7},{"k":"c","g":"B","p":"Right front limb","m":"maDLC","x":8,"d":3.3},{"k":"c","g":"B","p":"Right front limb","m":"maDLC","x":8.75,"d":2},{"k":"c","g":"B","p":"Right front limb","m":"maDLC","x":11.3,"d":0.7},{"k":"c","g":"B","p":"Right front limb","m":"maDLC","x":15,"d":0.2},{"k":"c","g":"B","p":"Right front limb","m":"maDLC","x":30,"d":0.02},
{"k":"c","g":"B","p":"Right front limb","m":"SBeA","x":0,"d":-1.7},{"k":"c","g":"B","p":"Right front limb","m":"SBeA","x":1.1,"d":-13.3},{"k":"c","g":"B","p":"Right front limb","m":"SBeA","x":2.4,"d":-17.7},{"k":"c","g":"B","p":"Right front limb","m":"SBeA","x":4.25,"d":-15},{"k":"c","g":"B","p":"Right front limb","m":"SBeA","x":5.9,"d":-9},{"k":"c","g":"B","p":"Right front limb","m":"SBeA","x":7.29,"d":-5},{"k":"c","g":"B","p":"Right front limb","m":"SBeA","x":9.25,"d":-2.3},{"k":"c","g":"B","p":"Right front limb","m":"SBeA","x":12.2,"d":-1},{"k":"c","g":"B","p":"Right front limb","m":"SBeA","x":16,"d":-0.4},{"k":"c","g":"B","p":"Right front limb","m":"SBeA","x":30,"d":-0.1},
{"k":"c","g":"B","p":"Left front limb","m":"maDLC","x":0,"d":1},{"k":"c","g":"B","p":"Left front limb","m":"maDLC","x":1.1,"d":12.7},{"k":"c","g":"B","p":"Left front limb","m":"maDLC","x":2.6,"d":17.7},{"k":"c","g":"B","p":"Left front limb","m":"maDLC","x":4.7,"d":14.3},{"k":"c","g":"B","p":"Left front limb","m":"maDLC","x":6.75,"d":7.7},{"k":"c","g":"B","p":"Left front limb","m":"maDLC","x":8.4,"d":3.7},{"k":"c","g":"B","p":"Left front limb","m":"maDLC","x":9.58,"d":1.3},{"k":"c","g":"B","p":"Left front limb","m":"maDLC","x":12.2,"d":0.3},{"k":"c","g":"B","p":"Left front limb","m":"maDLC","x":16,"d":0.1},{"k":"c","g":"B","p":"Left front limb","m":"maDLC","x":30,"d":0.02},
{"k":"c","g":"B","p":"Left front limb","m":"SBeA","x":0,"d":-1.7},{"k":"c","g":"B","p":"Left front limb","m":"SBeA","x":1.1,"d":-12.3},{"k":"c","g":"B","p":"Left front limb","m":"SBeA","x":2.6,"d":-17.3},{"k":"c","g":"B","p":"Left front limb","m":"SBeA","x":4.25,"d":-15.7},{"k":"c","g":"B","p":"Left front limb","m":"SBeA","x":5.9,"d":-10},{"k":"c","g":"B","p":"Left front limb","m":"SBeA","x":7.54,"d":-4.7},{"k":"c","g":"B","p":"Left front limb","m":"SBeA","x":9.25,"d":-2.7},{"k":"c","g":"B","p":"Left front limb","m":"SBeA","x":12.2,"d":-1.3},{"k":"c","g":"B","p":"Left front limb","m":"SBeA","x":16,"d":-0.5},{"k":"c","g":"B","p":"Left front limb","m":"SBeA","x":30,"d":-0.1},
{"k":"c","g":"B","p":"Neck","m":"maDLC","x":0,"d":1},{"k":"c","g":"B","p":"Neck","m":"maDLC","x":1.1,"d":12.7},{"k":"c","g":"B","p":"Neck","m":"maDLC","x":2.8,"d":17.7},{"k":"c","g":"B","p":"Neck","m":"maDLC","x":4.9,"d":14.3},{"k":"c","g":"B","p":"Neck","m":"maDLC","x":6.75,"d":7.7},{"k":"c","g":"B","p":"Neck","m":"maDLC","x":9.13,"d":1},{"k":"c","g":"B","p":"Neck","m":"maDLC","x":11.3,"d":0.3},{"k":"c","g":"B","p":"Neck","m":"maDLC","x":15,"d":0.1},{"k":"c","g":"B","p":"Neck","m":"maDLC","x":30,"d":0.02},
{"k":"c","g":"B","p":"Neck","m":"SBeA","x":0,"d":-1.7},{"k":"c","g":"B","p":"Neck","m":"SBeA","x":1.3,"d":-12.3},{"k":"c","g":"B","p":"Neck","m":"SBeA","x":3.8,"d":-18.3},{"k":"c","g":"B","p":"Neck","m":"SBeA","x":5.9,"d":-15},{"k":"c","g":"B","p":"Neck","m":"SBeA","x":7.2,"d":-10},{"k":"c","g":"B","p":"Neck","m":"SBeA","x":8.17,"d":-6.3},{"k":"c","g":"B","p":"Neck","m":"SBeA","x":9.67,"d":-4},{"k":"c","g":"B","p":"Neck","m":"SBeA","x":12.2,"d":-2.3},{"k":"c","g":"B","p":"Neck","m":"SBeA","x":15.5,"d":-1},{"k":"c","g":"B","p":"Neck","m":"SBeA","x":20,"d":-0.4},{"k":"c","g":"B","p":"Neck","m":"SBeA","x":30,"d":-0.1},
{"k":"c","g":"B","p":"Right ear","m":"maDLC","x":0,"d":1.3},{"k":"c","g":"B","p":"Right ear","m":"maDLC","x":1.1,"d":13.3},{"k":"c","g":"B","p":"Right ear","m":"maDLC","x":2.8,"d":18},{"k":"c","g":"B","p":"Right ear","m":"maDLC","x":5.1,"d":15.7},{"k":"c","g":"B","p":"Right ear","m":"maDLC","x":7.2,"d":9},{"k":"c","g":"B","p":"Right ear","m":"maDLC","x":8.4,"d":5},{"k":"c","g":"B","p":"Right ear","m":"maDLC","x":9.79,"d":2},{"k":"c","g":"B","p":"Right ear","m":"maDLC","x":12.2,"d":0.7},{"k":"c","g":"B","p":"Right ear","m":"maDLC","x":16,"d":0.2},{"k":"c","g":"B","p":"Right ear","m":"maDLC","x":30,"d":0.02},
{"k":"c","g":"B","p":"Right ear","m":"SBeA","x":0,"d":-1.7},{"k":"c","g":"B","p":"Right ear","m":"SBeA","x":0.9,"d":-14.3},{"k":"c","g":"B","p":"Right ear","m":"SBeA","x":1.96,"d":-18.3},{"k":"c","g":"B","p":"Right ear","m":"SBeA","x":3.4,"d":-15.3},{"k":"c","g":"B","p":"Right ear","m":"SBeA","x":5.1,"d":-9.3},{"k":"c","g":"B","p":"Right ear","m":"SBeA","x":7.17,"d":-2.7},{"k":"c","g":"B","p":"Right ear","m":"SBeA","x":9.25,"d":-1.3},{"k":"c","g":"B","p":"Right ear","m":"SBeA","x":12.2,"d":-0.7},{"k":"c","g":"B","p":"Right ear","m":"SBeA","x":16,"d":-0.3},{"k":"c","g":"B","p":"Right ear","m":"SBeA","x":30,"d":-0.05},
{"k":"c","g":"B","p":"Left ear","m":"maDLC","x":0,"d":1},{"k":"c","g":"B","p":"Left ear","m":"maDLC","x":0.9,"d":13.3},{"k":"c","g":"B","p":"Left ear","m":"maDLC","x":2.2,"d":17.3},{"k":"c","g":"B","p":"Left ear","m":"maDLC","x":3.8,"d":15},{"k":"c","g":"B","p":"Left ear","m":"maDLC","x":5.5,"d":8.3},{"k":"c","g":"B","p":"Left ear","m":"maDLC","x":7.2,"d":4},{"k":"c","g":"B","p":"Left ear","m":"maDLC","x":9.46,"d":1},{"k":"c","g":"B","p":"Left ear","m":"maDLC","x":12.2,"d":0.3},{"k":"c","g":"B","p":"Left ear","m":"maDLC","x":16,"d":0.1},{"k":"c","g":"B","p":"Left ear","m":"maDLC","x":30,"d":0.02},
{"k":"c","g":"B","p":"Left ear","m":"SBeA","x":0,"d":-1.7},{"k":"c","g":"B","p":"Left ear","m":"SBeA","x":0.7,"d":-13.3},{"k":"c","g":"B","p":"Left ear","m":"SBeA","x":1.75,"d":-18.3},{"k":"c","g":"B","p":"Left ear","m":"SBeA","x":3,"d":-16},{"k":"c","g":"B","p":"Left ear","m":"SBeA","x":5.1,"d":-8.3},{"k":"c","g":"B","p":"Left ear","m":"SBeA","x":6.88,"d":-3},{"k":"c","g":"B","p":"Left ear","m":"SBeA","x":9.25,"d":-1.3},{"k":"c","g":"B","p":"Left ear","m":"SBeA","x":12.2,"d":-0.7},{"k":"c","g":"B","p":"Left ear","m":"SBeA","x":16,"d":-0.3},{"k":"c","g":"B","p":"Left ear","m":"SBeA","x":30,"d":-0.05},
{"k":"c","g":"B","p":"Nose","m":"maDLC","x":0,"d":1.3},{"k":"c","g":"B","p":"Nose","m":"maDLC","x":1.1,"d":13.3},{"k":"c","g":"B","p":"Nose","m":"maDLC","x":2.8,"d":18.3},{"k":"c","g":"B","p":"Nose","m":"maDLC","x":5.1,"d":15},{"k":"c","g":"B","p":"Nose","m":"maDLC","x":7.2,"d":8.3},{"k":"c","g":"B","p":"Nose","m":"maDLC","x":9.25,"d":5},{"k":"c","g":"B","p":"Nose","m":"maDLC","x":11.3,"d":3.3},{"k":"c","g":"B","p":"Nose","m":"maDLC","x":13.7,"d":0.7},{"k":"c","g":"B","p":"Nose","m":"maDLC","x":16.7,"d":0.3},{"k":"c","g":"B","p":"Nose","m":"maDLC","x":22,"d":0.1},{"k":"c","g":"B","p":"Nose","m":"maDLC","x":30,"d":0.02},
{"k":"c","g":"B","p":"Nose","m":"SBeA","x":0,"d":-1.7},{"k":"c","g":"B","p":"Nose","m":"SBeA","x":1.1,"d":-11.7},{"k":"c","g":"B","p":"Nose","m":"SBeA","x":2.6,"d":-18.3},{"k":"c","g":"B","p":"Nose","m":"SBeA","x":5.1,"d":-15},{"k":"c","g":"B","p":"Nose","m":"SBeA","x":7.2,"d":-9.3},{"k":"c","g":"B","p":"Nose","m":"SBeA","x":9.38,"d":-2.3},{"k":"c","g":"B","p":"Nose","m":"SBeA","x":11.3,"d":-1.3},{"k":"c","g":"B","p":"Nose","m":"SBeA","x":14.7,"d":-0.7},{"k":"c","g":"B","p":"Nose","m":"SBeA","x":20,"d":-0.3},{"k":"c","g":"B","p":"Nose","m":"SBeA","x":30,"d":-0.05},

{"k":"m","g":"A","p":"Tip tail","m":"maDLC","x":16.9,"d":0.3,"e":13.8},{"k":"m","g":"A","p":"Tip tail","m":"SBeA","x":11.33,"d":-1.3,"e":-14.8},
{"k":"m","g":"A","p":"Mid tail","m":"maDLC","x":10.06,"d":1.3,"e":14.8},{"k":"m","g":"A","p":"Mid tail","m":"SBeA","x":8.17,"d":-2.7,"e":-16.2},
{"k":"m","g":"A","p":"Root tail","m":"maDLC","x":7.1,"d":2.7,"e":16.2},{"k":"m","g":"A","p":"Root tail","m":"SBeA","x":5.64,"d":-3.7,"e":-17.2},
{"k":"m","g":"A","p":"Back","m":"maDLC","x":6.17,"d":6.3,"e":19.8},{"k":"m","g":"A","p":"Back","m":"SBeA","x":7.94,"d":-9.7,"e":-23.2},
{"k":"m","g":"A","p":"Right hind paw","m":"maDLC","x":8.25,"d":4.7,"e":18.2},{"k":"m","g":"A","p":"Right hind paw","m":"SBeA","x":8.53,"d":-6.7,"e":-20.2},
{"k":"m","g":"A","p":"Left hind paw","m":"maDLC","x":8.19,"d":5.3,"e":18.8},{"k":"m","g":"A","p":"Left hind paw","m":"SBeA","x":8.14,"d":-9.3,"e":-22.8},
{"k":"m","g":"A","p":"Right front paw","m":"maDLC","x":7.92,"d":6,"e":19.5},{"k":"m","g":"A","p":"Right front paw","m":"SBeA","x":8.94,"d":-10,"e":-23.5},
{"k":"m","g":"A","p":"Left front paw","m":"maDLC","x":7.8,"d":5.7,"e":19.2},{"k":"m","g":"A","p":"Left front paw","m":"SBeA","x":9.39,"d":-10.3,"e":-23.8},
{"k":"m","g":"A","p":"Right hind limb","m":"maDLC","x":7,"d":5,"e":18.5},{"k":"m","g":"A","p":"Right hind limb","m":"SBeA","x":7.08,"d":-10.7,"e":-24.2},
{"k":"m","g":"A","p":"Left hind limb","m":"maDLC","x":6.89,"d":5,"e":18.5},{"k":"m","g":"A","p":"Left hind limb","m":"SBeA","x":7.1,"d":-8.3,"e":-21.8},
{"k":"m","g":"A","p":"Right front limb","m":"maDLC","x":6.47,"d":5,"e":18.5},{"k":"m","g":"A","p":"Right front limb","m":"SBeA","x":6.17,"d":-7.3,"e":-20.8},
{"k":"m","g":"A","p":"Left front limb","m":"maDLC","x":6.78,"d":4.7,"e":18.2},{"k":"m","g":"A","p":"Left front limb","m":"SBeA","x":6.61,"d":-7.3,"e":-20.8},
{"k":"m","g":"A","p":"Neck","m":"maDLC","x":6.47,"d":5.3,"e":18.8},{"k":"m","g":"A","p":"Neck","m":"SBeA","x":7.08,"d":-8.7,"e":-22.2},
{"k":"m","g":"A","p":"Right ear","m":"maDLC","x":7.22,"d":6.3,"e":19.8},{"k":"m","g":"A","p":"Right ear","m":"SBeA","x":5.39,"d":-6,"e":-19.5},
{"k":"m","g":"A","p":"Left ear","m":"maDLC","x":6.69,"d":3.3,"e":16.8},{"k":"m","g":"A","p":"Left ear","m":"SBeA","x":5.47,"d":-5,"e":-18.5},
{"k":"m","g":"A","p":"Nose","m":"maDLC","x":9.14,"d":1.7,"e":15.2},{"k":"m","g":"A","p":"Nose","m":"SBeA","x":6.67,"d":-6.7,"e":-20.2},
{"k":"m","g":"B","p":"Tip tail","m":"maDLC","x":26.3,"d":0.1,"e":13.6},{"k":"m","g":"B","p":"Tip tail","m":"SBeA","x":19.4,"d":-0.7,"e":-14.2},
{"k":"m","g":"B","p":"Mid tail","m":"maDLC","x":16.3,"d":0.3,"e":13.8},{"k":"m","g":"B","p":"Mid tail","m":"SBeA","x":12.1,"d":-1,"e":-14.5},
{"k":"m","g":"B","p":"Root tail","m":"maDLC","x":10.75,"d":1.3,"e":14.8},{"k":"m","g":"B","p":"Root tail","m":"SBeA","x":8.58,"d":-1.7,"e":-15.2},
{"k":"m","g":"B","p":"Back","m":"maDLC","x":8.54,"d":2,"e":15.5},{"k":"m","g":"B","p":"Back","m":"SBeA","x":8.7,"d":-8.3,"e":-21.8},
{"k":"m","g":"B","p":"Right hind paw","m":"maDLC","x":11.04,"d":2,"e":15.5},{"k":"m","g":"B","p":"Right hind paw","m":"SBeA","x":10,"d":-5.3,"e":-18.8},
{"k":"m","g":"B","p":"Left hind paw","m":"maDLC","x":11.4,"d":1.7,"e":15.2},{"k":"m","g":"B","p":"Left hind paw","m":"SBeA","x":9.58,"d":-6.7,"e":-20.2},
{"k":"m","g":"B","p":"Right front paw","m":"maDLC","x":10.33,"d":3.3,"e":16.8},{"k":"m","g":"B","p":"Right front paw","m":"SBeA","x":9.79,"d":-8.7,"e":-22.2},
{"k":"m","g":"B","p":"Left front paw","m":"maDLC","x":10.67,"d":3,"e":16.5},{"k":"m","g":"B","p":"Left front paw","m":"SBeA","x":11.33,"d":-6.7,"e":-20.2},
{"k":"m","g":"B","p":"Right hind limb","m":"maDLC","x":9.58,"d":1.3,"e":14.8},{"k":"m","g":"B","p":"Right hind limb","m":"SBeA","x":8.96,"d":-5,"e":-18.5},
{"k":"m","g":"B","p":"Left hind limb","m":"maDLC","x":10.08,"d":1.3,"e":14.8},{"k":"m","g":"B","p":"Left hind limb","m":"SBeA","x":8.75,"d":-5,"e":-18.5},
{"k":"m","g":"B","p":"Right front limb","m":"maDLC","x":8.75,"d":2,"e":15.5},{"k":"m","g":"B","p":"Right front limb","m":"SBeA","x":7.29,"d":-5,"e":-18.5},
{"k":"m","g":"B","p":"Left front limb","m":"maDLC","x":9.58,"d":1.3,"e":14.8},{"k":"m","g":"B","p":"Left front limb","m":"SBeA","x":7.54,"d":-4.7,"e":-18.2},
{"k":"m","g":"B","p":"Neck","m":"maDLC","x":9.13,"d":1,"e":14.5},{"k":"m","g":"B","p":"Neck","m":"SBeA","x":8.17,"d":-6.3,"e":-19.8},
{"k":"m","g":"B","p":"Right ear","m":"maDLC","x":9.79,"d":2,"e":15.5},{"k":"m","g":"B","p":"Right ear","m":"SBeA","x":7.17,"d":-2.7,"e":-16.2},
{"k":"m","g":"B","p":"Left ear","m":"maDLC","x":9.46,"d":1,"e":14.5},{"k":"m","g":"B","p":"Left ear","m":"SBeA","x":6.88,"d":-3,"e":-16.5},
{"k":"m","g":"B","p":"Nose","m":"maDLC","x":13.7,"d":0.7,"e":14.2},{"k":"m","g":"B","p":"Nose","m":"SBeA","x":9.38,"d":-2.3,"e":-15.8},

{"k":"s","g":"A","p":"Tip tail","t":"****","fav":"SBeA"},{"k":"s","g":"A","p":"Mid tail","t":"****","fav":"SBeA"},{"k":"s","g":"A","p":"Root tail","t":"****","fav":"SBeA"},{"k":"s","g":"A","p":"Back","t":"****","fav":"maDLC"},{"k":"s","g":"A","p":"Right hind paw","t":"n.s.","fav":"none"},{"k":"s","g":"A","p":"Left hind paw","t":"n.s.","fav":"none"},{"k":"s","g":"A","p":"Right front paw","t":"**","fav":"maDLC"},{"k":"s","g":"A","p":"Left front paw","t":"****","fav":"maDLC"},{"k":"s","g":"A","p":"Right hind limb","t":"n.s.","fav":"none"},{"k":"s","g":"A","p":"Left hind limb","t":"n.s.","fav":"none"},{"k":"s","g":"A","p":"Right front limb","t":"n.s.","fav":"none"},{"k":"s","g":"A","p":"Left front limb","t":"n.s.","fav":"none"},{"k":"s","g":"A","p":"Neck","t":"n.s.","fav":"none"},{"k":"s","g":"A","p":"Right ear","t":"****","fav":"SBeA"},{"k":"s","g":"A","p":"Left ear","t":"****","fav":"SBeA"},{"k":"s","g":"A","p":"Nose","t":"****","fav":"SBeA"},
{"k":"s","g":"B","p":"Tip tail","t":"****","fav":"SBeA"},{"k":"s","g":"B","p":"Mid tail","t":"****","fav":"SBeA"},{"k":"s","g":"B","p":"Root tail","t":"****","fav":"SBeA"},{"k":"s","g":"B","p":"Back","t":"n.s.","fav":"none"},{"k":"s","g":"B","p":"Right hind paw","t":"n.s.","fav":"none"},{"k":"s","g":"B","p":"Left hind paw","t":"***","fav":"SBeA"},{"k":"s","g":"B","p":"Right front paw","t":"n.s.","fav":"none"},{"k":"s","g":"B","p":"Left front paw","t":"n.s.","fav":"none"},{"k":"s","g":"B","p":"Right hind limb","t":"n.s.","fav":"none"},{"k":"s","g":"B","p":"Left hind limb","t":"*","fav":"SBeA"},{"k":"s","g":"B","p":"Right front limb","t":"**","fav":"SBeA"},{"k":"s","g":"B","p":"Left front limb","t":"****","fav":"SBeA"},{"k":"s","g":"B","p":"Neck","t":"n.s.","fav":"none"},{"k":"s","g":"B","p":"Right ear","t":"****","fav":"SBeA"},{"k":"s","g":"B","p":"Left ear","t":"****","fav":"SBeA"},{"k":"s","g":"B","p":"Nose","t":"****","fav":"SBeA"}
]},
"spacing": 27,
"hconcat": [
 {
  "transform": [{"filter": "datum.g === 'A'"}],
  "title": {"text": "a", "anchor": "start", "frame": "bounds", "fontSize": 16, "fontWeight": "bold", "color": "#000", "dx": 32, "offset": -30},
  "bounds": "flush",
  "facet": {
   "row": {"field": "p", "type": "nominal", "title": null, "sort": ["Tip tail","Mid tail","Root tail","Back","Right hind paw","Left hind paw","Right front paw","Left front paw","Right hind limb","Left hind limb","Right front limb","Left front limb","Neck","Right ear","Left ear","Nose"], "header": {"labelAngle": 0, "labelAlign": "left", "labelBaseline": "middle", "labelFontSize": 15, "labelColor": "#444", "labelPadding": 6}},
   "column": {"field": "g", "type": "nominal", "title": null, "header": {"labelExpr": "'All test data'", "labelFontSize": 16, "labelColor": "#444", "labelPadding": 10}}
  },
  "spacing": {"row": 0, "column": 0},
  "spec": {
   "width": 240, "height": 45,
   "layer": [
    {"transform": [{"filter": "datum.k === 'c'"}],
     "mark": {"type": "line", "interpolate": "monotone", "strokeWidth": 1.5},
     "encoding": {
      "x": {"field": "x", "type": "quantitative", "scale": {"domain": [0, 20], "nice": false}, "axis": {"values": [0, 10, 20], "title": "RMSE (pixels)", "grid": false, "labelPadding": 4, "titlePadding": 0}},
      "y": {"field": "d", "type": "quantitative", "scale": {"domain": [-22.5, 22.5], "nice": false}, "axis": {"values": [0], "labels": false, "title": null, "grid": true, "gridColor": "#000", "gridWidth": 1, "gridOpacity": 1}},
      "color": {"field": "m", "type": "nominal", "scale": {"domain": ["SBeA", "maDLC"], "range": ["#c0283a", "#2a3766"]}, "legend": {"title": null, "orient": "none", "legendX": 493, "legendY": -41, "symbolType": "stroke", "symbolSize": 529, "symbolStrokeWidth": 1.5, "labelFontSize": 16, "labelColor": "#444", "labelOffset": 6, "rowPadding": -9}}
     }},
    {"transform": [{"filter": "datum.k === 'm'"}],
     "mark": {"type": "rule", "strokeWidth": 1.5},
     "encoding": {"x": {"field": "x", "type": "quantitative"}, "y": {"field": "d", "type": "quantitative"}, "y2": {"field": "e"}, "color": {"field": "m", "type": "nominal"}}},
    {"transform": [{"filter": "datum.k === 'm'"}],
     "mark": {"type": "point", "filled": false, "fill": "white", "opacity": 1, "size": 60, "strokeWidth": 1.5},
     "encoding": {"x": {"field": "x", "type": "quantitative"}, "y": {"field": "d", "type": "quantitative"}, "color": {"field": "m", "type": "nominal"}}},
    {"transform": [{"filter": "datum.k === 's'"}],
     "mark": {"type": "text", "angle": 90, "fontSize": 16, "align": "center", "baseline": "middle"},
     "encoding": {"x": {"datum": 21.7}, "y": {"datum": 0}, "text": {"field": "t"}, "color": {"condition": {"test": "datum.fav === 'SBeA'", "value": "#c0283a"}, "value": "#555"}}}
   ]
  }
 },
 {
  "transform": [{"filter": "datum.g === 'B'"}],
  "title": {"text": "b", "anchor": "start", "frame": "bounds", "fontSize": 16, "fontWeight": "bold", "color": "#000", "dx": -9, "offset": -30},
  "bounds": "flush",
  "facet": {
   "row": {"field": "p", "type": "nominal", "title": null, "sort": ["Tip tail","Mid tail","Root tail","Back","Right hind paw","Left hind paw","Right front paw","Left front paw","Right hind limb","Left hind limb","Right front limb","Left front limb","Neck","Right ear","Left ear","Nose"], "header": {"labels": false}},
   "column": {"field": "g", "type": "nominal", "title": null, "header": {"labelExpr": "'Close contact'", "labelFontSize": 16, "labelColor": "#444", "labelPadding": 10}}
  },
  "spacing": {"row": 0, "column": 0},
  "spec": {
   "width": 240, "height": 45,
   "layer": [
    {"transform": [{"filter": "datum.k === 'c'"}],
     "mark": {"type": "line", "interpolate": "monotone", "strokeWidth": 1.5},
     "encoding": {
      "x": {"field": "x", "type": "quantitative", "scale": {"domain": [0, 30], "nice": false}, "axis": {"values": [0, 10, 20, 30], "title": "RMSE (pixels)", "grid": false, "labelPadding": 4, "titlePadding": 0}},
      "y": {"field": "d", "type": "quantitative", "scale": {"domain": [-22.5, 22.5], "nice": false}, "axis": {"values": [0], "labels": false, "title": null, "grid": true, "gridColor": "#000", "gridWidth": 1, "gridOpacity": 1}},
      "color": {"field": "m", "type": "nominal", "scale": {"domain": ["SBeA", "maDLC"], "range": ["#c0283a", "#2a3766"]}, "legend": {"title": null, "orient": "none", "legendX": 493, "legendY": -41, "symbolType": "stroke", "symbolSize": 529, "symbolStrokeWidth": 1.5, "labelFontSize": 16, "labelColor": "#444", "labelOffset": 6, "rowPadding": -9}}
     }},
    {"transform": [{"filter": "datum.k === 'm'"}],
     "mark": {"type": "rule", "strokeWidth": 1.5},
     "encoding": {"x": {"field": "x", "type": "quantitative"}, "y": {"field": "d", "type": "quantitative"}, "y2": {"field": "e"}, "color": {"field": "m", "type": "nominal"}}},
    {"transform": [{"filter": "datum.k === 'm'"}],
     "mark": {"type": "point", "filled": false, "fill": "white", "opacity": 1, "size": 60, "strokeWidth": 1.5},
     "encoding": {"x": {"field": "x", "type": "quantitative"}, "y": {"field": "d", "type": "quantitative"}, "color": {"field": "m", "type": "nominal"}}},
    {"transform": [{"filter": "datum.k === 's'"}],
     "mark": {"type": "text", "angle": 90, "fontSize": 16, "align": "center", "baseline": "middle"},
     "encoding": {"x": {"datum": 32.5}, "y": {"datum": 0}, "text": {"field": "t"}, "color": {"condition": {"test": "datum.fav === 'SBeA'", "value": "#c0283a"}, "value": "#555"}}}
   ]
  }
 }
]
}
